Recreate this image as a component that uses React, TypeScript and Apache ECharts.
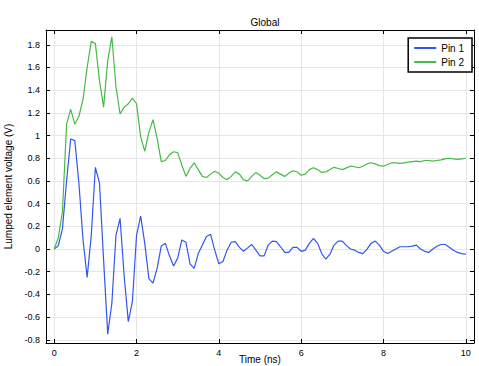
import React, { useEffect, useRef } from "react";
import * as echarts from "echarts";

const time: number[] = Array.from({ length: 101 }, (_, i) => Math.round(i) / 10);

const pin1: number[] = [
  0, 0.03, 0.18, 0.6, 0.97, 0.955, 0.58, 0.08, -0.25, 0.12,
  0.72, 0.58, -0.1, -0.75, -0.48, 0.12, 0.27, -0.24, -0.64, -0.46,
  0.12, 0.29, 0.05, -0.26, -0.3, -0.17, 0.026, 0.05, -0.06, -0.15,
  -0.08, 0.08, 0.06, -0.13, -0.17, -0.04, 0.035, 0.11, 0.13, -0.01,
  -0.13, -0.11, -0.01, 0.06, 0.065, 0.015, -0.02, 0.01, 0.04, -0.01,
  -0.06, -0.06, 0.035, 0.07, 0.065, 0.02, -0.03, -0.03, 0.015, 0.015,
  -0.02, -0.01, 0.05, 0.094, 0.05, -0.04, -0.09, -0.045, 0.035, 0.07,
  0.07, 0.03, 0.0, -0.01, -0.03, -0.04, 0.0, 0.05, 0.07, 0.035,
  -0.02, -0.04, -0.02, 0.0, 0.02, 0.02, 0.02, 0.025, 0.035, 0.0,
  -0.02, -0.03, 0.0, 0.025, 0.04, 0.04, 0.015, -0.01, -0.03, -0.04,
  -0.045,
];

const pin2: number[] = [
  0, 0.1, 0.33, 1.1, 1.23, 1.1, 1.17, 1.32, 1.6, 1.83,
  1.81, 1.48, 1.25, 1.66, 1.87, 1.43, 1.19, 1.25, 1.28, 1.33,
  1.28, 0.99, 0.86, 1.03, 1.14, 0.975, 0.77, 0.78, 0.83, 0.857,
  0.85, 0.74, 0.64, 0.71, 0.76, 0.7, 0.64, 0.63, 0.66, 0.685,
  0.667, 0.63, 0.61, 0.64, 0.68, 0.66, 0.61, 0.6, 0.64, 0.675,
  0.65, 0.62, 0.625, 0.655, 0.68, 0.66, 0.64, 0.667, 0.69, 0.68,
  0.65, 0.66, 0.7, 0.716, 0.7, 0.675, 0.68, 0.7, 0.72, 0.71,
  0.7, 0.715, 0.73, 0.725, 0.716, 0.73, 0.75, 0.76, 0.75, 0.735,
  0.73, 0.745, 0.76, 0.76, 0.755, 0.76, 0.765, 0.77, 0.775, 0.77,
  0.78, 0.78, 0.775, 0.78, 0.785, 0.795, 0.8, 0.795, 0.79, 0.795,
  0.8,
];

const xTicks: number[] = [0, 2, 4, 6, 8, 10];
const yTicks: number[] = [-0.8, -0.6, -0.4, -0.2, 0, 0.2, 0.4, 0.6, 0.8, 1, 1.2, 1.4, 1.6, 1.8];

const FONT = "Liberation Sans, Arial, sans-serif";

export default function App() {
  const ref = useRef<HTMLDivElement>(null);
  useEffect(() => {
    document.body.style.margin = "0";
    const chart = echarts.init(ref.current!, undefined, { renderer: "svg" });
    const xRange = { min: -0.2, max: 10.2 };
    const yRange = { min: -0.828, max: 1.93 };
    const baseAxisLine = { show: true, onZero: false, lineStyle: { color: "#000", width: 1 } };
    const tick = (vals: number[]) => ({ show: true, inside: true, length: 4, customValues: vals, lineStyle: { color: "#000" } });
    chart.setOption({
      animation: false,
      backgroundColor: "#fff",
      title: {
        text: "Global",
        left: 260,
        textAlign: "center",
        top: 12,
        textStyle: { fontSize: 10, fontWeight: "normal", color: "#000", fontFamily: FONT },
      },
      legend: {
        orient: "vertical",
        right: 7,
        top: 38,
        itemWidth: 22,
        itemHeight: 2,
        itemGap: 4,
        padding: [5, 8, 5, 6],
        backgroundColor: "#fff",
        borderColor: "#000",
        borderWidth: 1.5,
        textStyle: { fontSize: 10, color: "#000", fontFamily: FONT },
        icon: "rect",
        data: ["Pin 1", "Pin 2"],
      },
      grid: { left: 46, right: 5, top: 30, bottom: 23, containLabel: false, outerBoundsMode: "none" },
      xAxis: [
        {
          type: "value",
          ...xRange,
          name: "Time (ns)",
          nameLocation: "middle",
          nameGap: 11,
          nameMoveOverlap: false,
          nameTextStyle: { fontSize: 10, color: "#000", fontFamily: FONT, verticalAlign: "top" },
          axisLine: baseAxisLine,
          axisTick: tick(xTicks),
          axisLabel: { customValues: xTicks, fontSize: 9, color: "#000", margin: 5, fontFamily: FONT },
          splitLine: { show: true, lineStyle: { color: "#e6e6e6", width: 1 } },
        },
        {
          type: "value",
          position: "top",
          ...xRange,
          axisLine: baseAxisLine,
          axisTick: tick(xTicks),
          axisLabel: { show: false },
          splitLine: { show: false },
        },
      ],
      yAxis: [
        {
          type: "value",
          ...yRange,
          name: "Lumped element voltage (V)",
          nameLocation: "middle",
          nameGap: 33,
          nameMoveOverlap: false,
          nameTextStyle: { fontSize: 10, color: "#000", fontFamily: FONT },
          axisLine: baseAxisLine,
          axisTick: tick(yTicks),
          axisLabel: {
            customValues: yTicks,
            fontSize: 9,
            color: "#000",
            margin: 6,
            fontFamily: FONT,
            formatter: (v: number) => String(Math.round(v * 10) / 10),
          },
          splitLine: { show: true, lineStyle: { color: "#e6e6e6", width: 1 } },
        },
        {
          type: "value",
          position: "right",
          ...yRange,
          axisLine: baseAxisLine,
          axisTick: tick(yTicks),
          axisLabel: { show: false },
          splitLine: { show: false },
        },
      ],
      series: [
        {
          name: "Pin 1",
          type: "line",
          data: time.map((t, i) => [t, pin1[i]]),
          showSymbol: false,
          lineStyle: { color: "#3355ee", width: 1.2 },
          itemStyle: { color: "#3355ee" },
        },
        {
          name: "Pin 2",
          type: "line",
          data: time.map((t, i) => [t, pin2[i]]),
          showSymbol: false,
          lineStyle: { color: "#44bb44", width: 1.2 },
          itemStyle: { color: "#44bb44" },
        },
      ],
    });
    return () => chart.dispose();
  }, []);
  return <div ref={ref} style={{ position: "absolute", left: 0, top: 0, width: 479, height: 366 }} />;
}
